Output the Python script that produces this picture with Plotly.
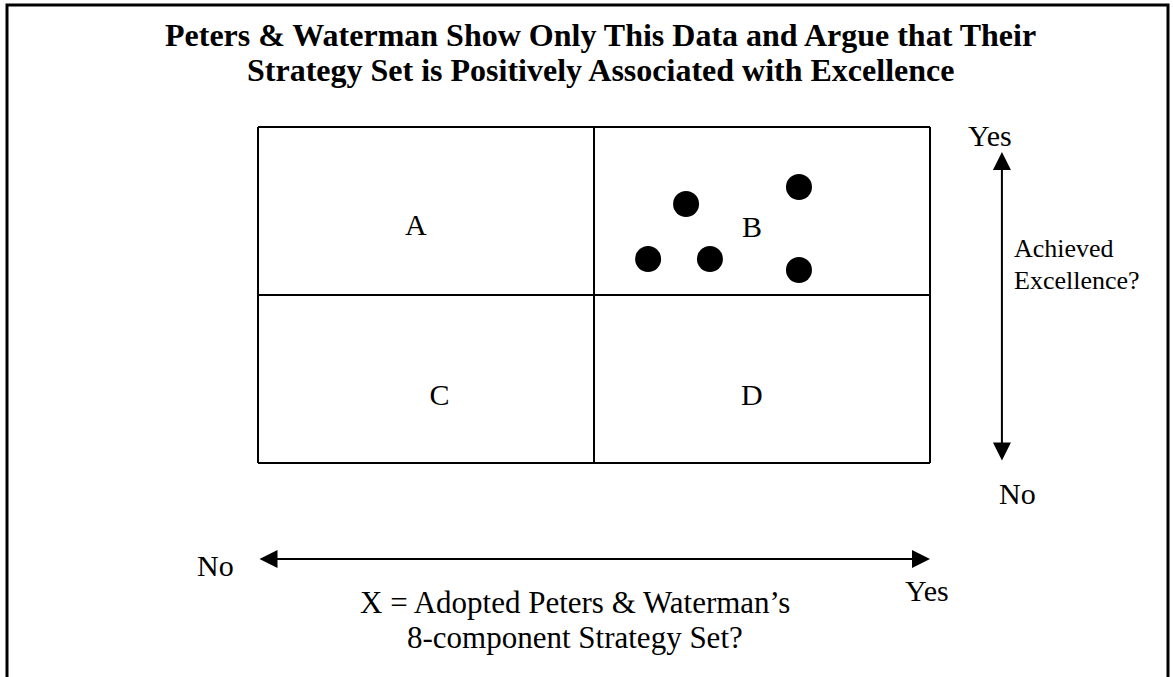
"""
Peters & Waterman 2x2 diagram: strategy adoption vs excellence
"""
import plotly.graph_objects as go

W, H = 1173, 677

# grid: two columns (No / Yes strategy) and two rows (No / Yes excellence)
grid_x = [0, 1, 2]
grid_y = [0, 1, 2]

quadrant_labels = ["A", "B", "C", "D"]
quadrant_x = [0.47, 1.47, 0.54, 1.47]
quadrant_y = [1.40, 1.39, 0.39, 0.39]

# firms studied (all in cell B)
firm_x = [1.274, 1.610, 1.161, 1.345, 1.610]
firm_y = [1.542, 1.643, 1.214, 1.214, 1.149]

title_lines = [
    "Peters & Waterman Show Only This Data and Argue that Their",
    "Strategy Set is Positively Associated with Excellence",
]
x_title_lines = [
    "X = Adopted Peters &amp; Waterman\u2019s",
    "8-component Strategy Set?",
]
y_title_lines = ["Achieved", "Excellence?"]

SERIF = "Liberation Serif, Times New Roman, serif"

# axis ranges so that the box sits where it does in the page
x_range = [-0.7679, 2.7232]
y_range = [-1.2738, 2.7560]


def px_y(py):
    """pixel row -> paper y"""
    return 1 - py / H


fig = go.Figure()

fig.add_trace(
    go.Scatter(
        x=firm_x,
        y=firm_y,
        mode="markers",
        marker=dict(size=26, color="black", line=dict(width=0)),
        hoverinfo="skip",
    )
)
fig.add_trace(
    go.Scatter(
        x=quadrant_x,
        y=quadrant_y,
        mode="text",
        text=quadrant_labels,
        textposition="middle center",
        textfont=dict(family=SERIF, size=30, color="black"),
        hoverinfo="skip",
    )
)

# box and dividers
for gx in grid_x:
    fig.add_shape(
        type="line", x0=gx, x1=gx, y0=grid_y[0], y1=grid_y[-1],
        line=dict(color="black", width=2),
    )
for gy in grid_y:
    fig.add_shape(
        type="line", x0=grid_x[0], x1=grid_x[-1], y0=gy, y1=gy,
        line=dict(color="black", width=2),
    )

# outer frame (its bottom edge runs off the page)
fig.add_shape(
    type="rect", xref="paper", yref="paper",
    x0=7 / W, x1=1168 / W, y0=px_y(685), y1=px_y(5),
    line=dict(color="black", width=3),
)

arrow = dict(
    showarrow=True, text="", axref="x", ayref="y",
    arrowhead=2, startarrowhead=2, arrowside="end+start",
    arrowsize=1.8, startarrowsize=1.8, arrowwidth=2, arrowcolor="black",
    standoff=0, startstandoff=0,
)
# vertical (excellence) arrow
fig.add_annotation(x=2.214, y=1.851, ax=2.214, ay=0.006, **arrow)
# horizontal (strategy) arrow
fig.add_annotation(x=grid_x[-1], y=-0.571, ax=grid_x[0], ay=-0.571, **arrow)

txt = dict(showarrow=False, font=dict(family=SERIF, size=30, color="black"))
fig.add_annotation(x=2.179, y=1.95, text="Yes", **txt)
fig.add_annotation(x=2.259, y=-0.18, text="No", **txt)
fig.add_annotation(x=-0.128, y=-0.61, text="No", **txt)
fig.add_annotation(x=1.991, y=-0.76, text="Yes", **txt)

for i, line in enumerate(y_title_lines):
    fig.add_annotation(
        x=2.244, y=1.274 - 0.185 * i, text=line, xanchor="left",
        showarrow=False, font=dict(family=SERIF, size=26, color="black"),
    )

for i, line in enumerate(x_title_lines):
    fig.add_annotation(
        x=0.943, y=-0.83 - 0.21 * i, text=line,
        showarrow=False, font=dict(family=SERIF, size=31, color="black"),
    )

for i, line in enumerate(title_lines):
    fig.add_annotation(
        xref="paper", yref="paper", x=600 / W, y=px_y(35 + 35 * i),
        xanchor="center", yanchor="middle",
        text="<b>" + line.replace("&", "&amp;") + "</b>",
        showarrow=False, font=dict(family=SERIF, size=32, color="black"),
    )

fig.update_xaxes(range=x_range, visible=False, fixedrange=True)
fig.update_yaxes(range=y_range, visible=False, fixedrange=True)
fig.update_layout(
    width=W,
    height=H,
    autosize=False,
    margin=dict(l=0, r=0, t=0, b=0),
    showlegend=False,
    plot_bgcolor="white",
    paper_bgcolor="white",
)

# drop the browser's default page margin so the figure sits at 0,0
fig.write_html(
    "out.html",
    config={"displayModeBar": False},
    post_script="document.body.style.margin='0';"
    "document.body.style.overflow='hidden';",
)
